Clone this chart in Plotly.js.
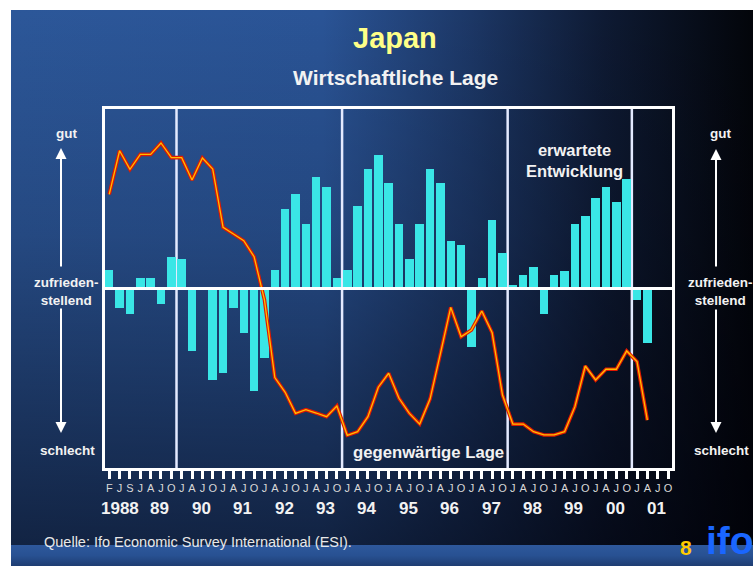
<!DOCTYPE html>
<html>
<head>
<meta charset="utf-8">
<script src="https://cdn.plot.ly/plotly-3.0.1.min.js"></script>
<style>
  html, body { margin:0; padding:0; width:753px; height:566px; overflow:hidden; background:#ffffff; }
  #bg { position:absolute; left:11px; top:10px; width:742px; height:556px;
    background:
      linear-gradient(to bottom, rgba(0,0,8,0) 0%, rgba(0,0,8,0.16) 40%, rgba(0,0,8,0.62) 100%),
      linear-gradient(to right, #2c5799 0%, #2a5496 42%, #1c3766 62%, #0e1a33 80%, #03050a 100%);
  }
  #band { position:absolute; left:11px; top:545px; width:742px; height:21px;
    background: linear-gradient(to bottom, #2e589c 0%, #285192 50%, #1e3d72 100%); }
  #chart { position:absolute; left:0; top:0; width:753px; height:566px; }
</style>
</head>
<body>
<div id="bg"></div>
<div id="band"></div>
<div id="chart"></div>
<script>
// ---- data ----
const monthLabels = ['F','J','S',
  'J','A','J','O', 'J','A','J','O', 'J','A','J','O', 'J','A','J','O',
  'J','A','J','O', 'J','A','J','O', 'J','A','J','O', 'J','A','J','O',
  'J','A','J','O', 'J','A','J','O', 'J','A','J','O', 'J','A','J','O',
  'J','A','J','O'];
const yearLabels = ['1988','89','90','91','92','93','94','95','96','97','98','99','00','01'];

// erwartete Entwicklung (bars)
const expected = [10, -10.5, -14.3, 6, 6, -8.3, 17.6,
  16, -34.5, -1, -50.5, -46.7, -10.5, -24.6, -56.6, -38.4, 10, 44, 51.8, 35.8, 61.7, 56.2, 6,
  10, 45.7, 66.1, 73.8, 57.9, 35.8, 16, 35.8, 66.1, 57.9, 25.9, 23.7, -32.5, 6, 38, 19.8,
  1.7, 7.7, 11.6, -14.2, 7.7, 9.9, 35.8, 39.7, 49.6, 56.2, 47.9, 60.1,
  -6.4, -30.1];

// gegenwärtige Lage (line)
const current = [51.9, 75.9, 65.7, 73.9, 73.9, 80.2, 72.1,
  72.1, 59.8, 71.9, 65.8, 33.7, 30, 26.3, 17.5, -6.3, -49.1, -57.2, -68.8, -66.8, -68.6, -70.6, -64.7,
  -80.9, -78.9, -70.6, -54.4, -46.7, -60.5, -68.8, -74.7, -60.9, -35.9, -10.4, -26.6, -22.9, -12.4, -24.4, -58.7,
  -74.7, -74.7, -78.9, -80.7, -80.7, -78.9, -65.1, -42.7, -50.4, -44.5, -44.5, -34.4,
  -40.3, -72.5];

const separators = [6.5, 22.5, 38.5, 50.5];

// ---- layout helpers ----
const L = 105, R = 672, T = 109, B = 468, W = 753, H = 566;
const PX = x => (x - L) / (R - L);
const PY = y => (B - y) / (B - T);
const FONT = 'Liberation Sans, Arial, Helvetica, sans-serif';

const idx = monthLabels.map((_, i) => i);

const traces = [
  { type:'bar', x: expected.map((_, i) => i), y: expected,
    marker:{ color:'#3ae6e6', line:{width:0} }, width:0.82, hoverinfo:'skip' },
  { type:'scatter', mode:'lines', x: current.map((_, i) => i), y: current,
    line:{ color:'#e01800', width:3.6 }, hoverinfo:'skip' },
  { type:'scatter', mode:'lines', x: current.map((_, i) => i), y: current,
    line:{ color:'#ffbe00', width:1.3 }, hoverinfo:'skip' }
];

function txt(text, x, y, size, opts) {
  return Object.assign({ text, xref:'paper', yref:'paper', x:PX(x), y:PY(y),
    xanchor:'center', yanchor:'middle', showarrow:false,
    font:{ family:FONT, size, color:'#f2f2f2', weight:'bold' } }, opts || {});
}
function arrow(x, y, ay) {
  return { text:'', xref:'paper', yref:'paper', x:PX(x), y:PY(y), ax:0, ay:ay,
    showarrow:true, arrowhead:2, arrowsize:1.1, arrowwidth:2, arrowcolor:'#ffffff', standoff:0 };
}

const annotations = [
  txt('Japan', 395, 38, 29, { font:{ family:FONT, size:29, color:'#ffff88', weight:'bold' } }),
  txt('Wirtschaftliche Lage', 395, 78, 21),
  txt('gut', 66, 133, 13.5),
  txt('zufrieden-<br>stellend', 66, 291.5, 13.5),
  txt('schlecht', 67, 450, 13.5),
  txt('gut', 720, 133, 13.5),
  txt('zufrieden-<br>stellend', 720, 291, 13.5),
  txt('schlecht', 721, 450, 13.5),
  txt('erwartete<br>Entwicklung', 574, 160.7, 16.5),
  txt('gegenwärtige Lage', 428.5, 452.7, 16.7),
  txt('Quelle: Ifo Economic Survey International (ESI).', 42, 542, 14.5,
      { xanchor:'left', font:{ family:FONT, size:14.5, color:'#e8e8e8' } }),
  txt('8', 686, 547, 21, { font:{ family:FONT, size:21, color:'#ffcc00', weight:'bold' } }),
  txt('ifo', 704, 540, 39, { xanchor:'left', font:{ family:FONT, size:39, color:'#1a66ff', weight:'bold' } }),
  arrow(61, 148, 120), arrow(61, 433, -126),
  arrow(716, 149, 119), arrow(716, 433, -125)
];
yearLabels.forEach((yl, k) => {
  annotations.push({ text: yl, xref:'x', yref:'paper', x: k === 0 ? 1.05 : 0.9 + 4 * k,
    y: PY(508.5), xanchor:'center', yanchor:'middle', showarrow:false,
    font:{ family:FONT, size:17, color:'#f2f2f2', weight:'bold' } });
});

const shapes = separators.map(s => ({ type:'line', xref:'x', yref:'paper', x0:s, x1:s, y0:0, y1:1,
  line:{ color:'#e4eaff', width:2.5 }, layer:'below' }));
shapes.push({ type:'line', xref:'paper', yref:'y', x0:0, x1:1, y0:0, y1:0,
  line:{ color:'#ffffff', width:3 }, layer:'above' });

const layout = {
  width: W, height: H,
  margin: { l:L, r:W - R, t:T, b:H - B, pad:0 },
  paper_bgcolor:'rgba(0,0,0,0)', plot_bgcolor:'rgba(0,0,0,0)',
  showlegend:false, bargap:0,
  xaxis: { range:[-0.41, 54.38], tickmode:'array', tickvals: idx, ticktext: monthLabels,
    ticks:'outside', ticklen:8, tickwidth:3, tickcolor:'#ffffff',
    tickfont:{ family:FONT, size:11, color:'#d8d8d8' },
    showline:true, mirror:true, linecolor:'#ffffff', linewidth:3,
    showgrid:false, zeroline:false, fixedrange:true },
  yaxis: { range:[-98.9, 98.9], showticklabels:false, ticks:'',
    showline:true, mirror:true, linecolor:'#ffffff', linewidth:3,
    showgrid:false, zeroline:false, fixedrange:true },
  annotations, shapes
};

Plotly.newPlot('chart', traces, layout, { displayModeBar:false, staticPlot:true });
</script>
</body>
</html>
